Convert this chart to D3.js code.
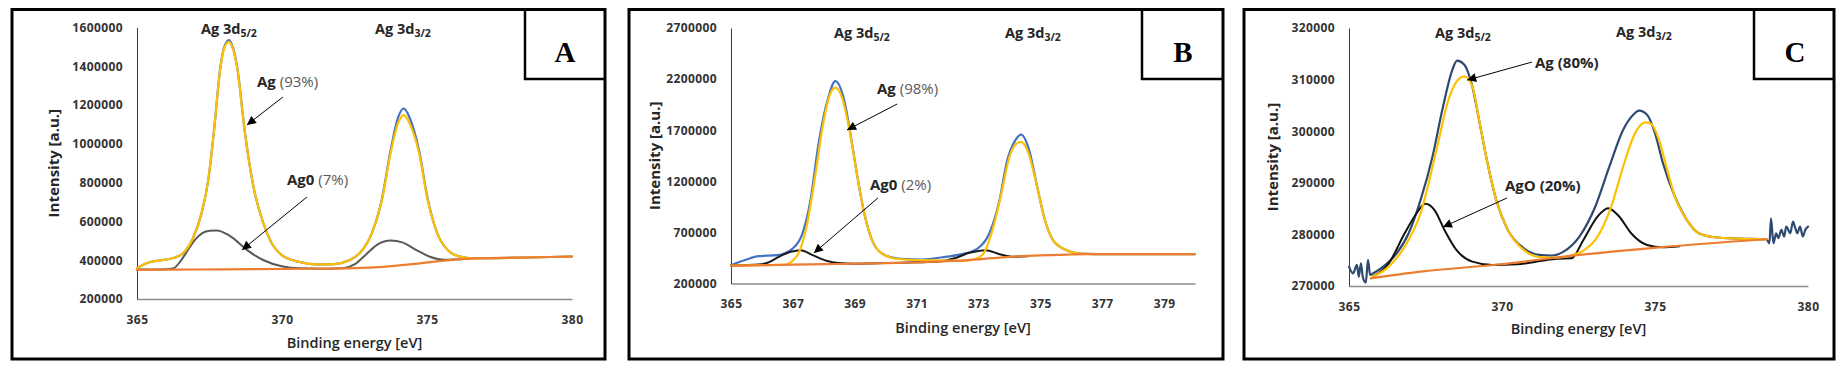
<!DOCTYPE html>
<html>
<head>
<meta charset="utf-8">
<script src="https://cdn.jsdelivr.net/npm/d3@7"></script>
<style>
  body { margin: 0; background: #fff; }
  svg { display: block; }
  text { font-family: "Open Sans", sans-serif; }
</style>
</head>
<body>
<svg width="1842" height="371"></svg>
<script>
// ---- tick values ----
const energyTicksA = [365, 370, 375, 380];
const energyTicksB = [365, 367, 369, 371, 373, 375, 377, 379];
const energyTicksC = [365, 370, 375, 380];
const intensityTicksA = [200000, 400000, 600000, 800000, 1000000, 1200000, 1400000, 1600000];
const intensityTicksB = [200000, 700000, 1200000, 1700000, 2200000, 2700000];
const intensityTicksC = [270000, 280000, 290000, 300000, 310000, 320000];

// ---- panel A series [eV, intensity] ----
const envelopeA = [[365.0,359000],[365.4,388000],[365.8,399000],[366.25,411000],[366.6,437000],[366.93,513000],[367.23,644000],[367.46,815000],[367.65,1060000],[367.88,1400000],[368.0,1495000],[368.17,1535000],[368.32,1490000],[368.45,1400000],[368.72,1060000],[369.0,790000],[369.35,593000],[369.64,489000],[370.03,422000],[370.6,391000],[371.2,378000],[371.8,380000],[372.3,398000],[372.7,440000],[373.1,540000],[373.44,712000],[373.75,970000],[374.0,1135000],[374.2,1182000],[374.4,1135000],[374.72,970000],[375.03,712000],[375.35,540000],[375.7,455000],[376.1,420000],[376.6,410000],[377.5,411000],[378.5,414000],[380.0,419000]];
const agA = [[365.0,359000],[365.4,388000],[365.8,399000],[366.25,411000],[366.6,437000],[366.93,513000],[367.23,644000],[367.46,815000],[367.65,1058000],[367.88,1395000],[368.0,1488000],[368.17,1525000],[368.32,1482000],[368.45,1395000],[368.72,1058000],[369.0,790000],[369.35,593000],[369.64,489000],[370.03,422000],[370.6,391000],[371.2,378000],[371.8,380000],[372.3,398000],[372.7,440000],[373.1,540000],[373.44,705000],[373.75,955000],[374.0,1105000],[374.2,1148000],[374.4,1105000],[374.72,955000],[375.03,705000],[375.35,540000],[375.7,455000],[376.1,420000],[376.6,410000],[377.5,411000],[378.5,414000],[380.0,419000]];
const ag0A = [[365.0,352000],[365.8,352000],[366.24,357000],[366.5,395000],[366.72,444000],[367.0,505000],[367.25,540000],[367.5,552000],[367.76,553000],[368.05,538000],[368.3,515000],[368.79,453000],[369.35,401000],[370.03,367000],[370.6,358000],[371.5,356000],[372.1,358000],[372.5,378000],[372.9,430000],[373.3,482000],[373.75,502000],[374.15,492000],[374.6,455000],[375.1,418000],[375.6,402000],[376.4,407000]];
const backgroundA = [[365.0,350000],[367.0,352000],[369.0,354000],[371.0,356000],[372.5,359000],[373.5,366000],[374.5,380000],[375.5,397000],[376.5,408000],[378.0,413000],[380.0,419000]];

// ---- panel B series ----
const envelopeB = [[365.0,379000],[365.5,435000],[365.9,467000],[366.5,477000],[366.99,542000],[367.31,689000],[367.57,1015000],[367.83,1569000],[368.15,2025000],[368.37,2181000],[368.66,1992000],[368.86,1667000],[369.07,1275000],[369.31,884000],[369.56,624000],[369.88,493000],[370.4,444000],[371.17,435000],[371.94,461000],[372.46,487000],[372.97,542000],[373.35,689000],[373.68,1015000],[373.93,1406000],[374.19,1601000],[374.38,1657000],[374.64,1504000],[374.9,1145000],[375.15,819000],[375.41,624000],[375.8,532000],[376.31,493000],[377.2,487000],[380.0,487000]];
const agB = [[365.0,376000],[366.5,382000],[366.8,388000],[367.0,425000],[367.18,493000],[367.44,754000],[367.7,1210000],[367.96,1732000],[368.19,2041000],[368.37,2116000],[368.6,2010000],[368.86,1650000],[369.07,1270000],[369.31,884000],[369.56,624000],[369.88,493000],[370.4,440000],[371.17,428000],[371.9,425000],[372.5,422000],[372.9,440000],[373.16,493000],[373.42,689000],[373.74,1080000],[374.0,1438000],[374.2,1560000],[374.38,1585000],[374.6,1490000],[374.9,1140000],[375.15,819000],[375.41,624000],[375.8,532000],[376.31,493000],[377.2,487000],[380.0,487000]];
const ag0B = [[365.0,376000],[365.9,386000],[366.2,405000],[366.54,461000],[366.93,510000],[367.25,526000],[367.64,477000],[368.08,422000],[368.47,400000],[369.0,394000],[370.0,400000],[371.0,407000],[371.7,415000],[372.2,444000],[372.71,500000],[373.23,526000],[373.68,487000],[374.13,461000],[374.6,466000]];
const backgroundB = [[365.0,373000],[366.0,379000],[367.0,384000],[368.0,389000],[369.0,394000],[370.0,400000],[371.2,408000],[372.0,418000],[373.0,437000],[374.0,461000],[375.0,476000],[376.0,484000],[376.5,487000],[380.0,487000]];

// ---- panel C series ----
const envelopeC = [[365.0,273750],[365.13,272460],[365.26,274080],[365.32,271800],[365.39,274400],[365.45,271800],[365.55,270650],[365.62,275050],[365.69,272140],[365.75,272330],[366.04,273430],[366.56,276340],[366.95,280220],[367.34,286690],[367.73,295100],[368.05,304160],[368.38,311920],[368.53,313670],[368.77,312900],[369.03,308690],[369.29,300930],[369.55,293160],[369.81,286690],[370.19,280870],[370.71,277310],[371.23,276020],[371.62,275890],[372.01,276660],[372.53,279580],[373.05,285400],[373.51,293160],[373.96,300280],[374.29,303190],[374.48,303970],[374.74,303190],[375.0,299630],[375.26,293810],[375.65,287340],[376.04,282810],[376.43,280220],[376.95,279450],[377.73,279190],[378.64,279060],[378.74,278280],[378.79,283130],[378.87,278280],[378.96,280220],[379.03,279250],[379.13,280870],[379.22,279580],[379.29,281520],[379.42,280220],[379.51,282490],[379.57,281520],[379.65,280220],[379.74,281520],[379.83,279580],[379.91,280870],[380.0,281520]];
const agC = [[365.78,271800],[366.3,273750],[366.82,277630],[367.34,284100],[367.86,296400],[368.25,306100],[368.57,310000],[368.77,310630],[369.03,308690],[369.29,300930],[369.55,293160],[369.81,286690],[370.19,280870],[370.71,277000],[371.23,275600],[371.8,275500],[372.3,276000],[372.7,277000],[373.05,278930],[373.57,285400],[373.96,293160],[374.35,299630],[374.68,301700],[374.87,301440],[375.13,298340],[375.4,292500],[375.65,287340],[376.04,282810],[376.43,280220],[376.95,279450],[377.73,279190],[378.64,279060]];
const agOC = [[365.78,271800],[366.3,274400],[366.82,280220],[367.21,284100],[367.49,285920],[367.79,284750],[368.12,280870],[368.51,276990],[369.03,274720],[369.68,274080],[370.5,274200],[371.3,274900],[371.8,275300],[372.27,275370],[372.66,278930],[373.12,283460],[373.47,285080],[373.83,283460],[374.22,280220],[374.74,277960],[375.26,277500],[375.8,277700]];
const backgroundC = [[365.71,271490],[367.34,272780],[369.94,274210],[372.53,276020],[375.13,277500],[378.64,279060]];

// ---- labels ----
const peakLabels = ["Ag 3d", "5/2", "3/2"];
const componentLabelsA = [["Ag", " (93%)"], ["Ag0", " (7%)"]];
const componentLabelsB = [["Ag", " (98%)"], ["Ag0", " (2%)"]];
const componentLabelsC = [["Ag (80%)", ""], ["AgO (20%)", ""]];
// arrow tail / tip in data units
const arrowsA = [[[370.03,1241000],[368.79,1097000]], [[370.86,725800],[368.62,452600]]];
const arrowsB = [[[370.37,1956000],[368.75,1702000]], [[369.75,1037000],[367.68,498000]]];
const arrowsC = [[[370.98,313400],[368.86,309900]], [[370.16,287050],[368.07,281430]]];

const panels = [
  { letter: "A", frame: [12, 605, 9.5, 359], boxLeft: 525, boxBottom: 79, letterX: 565,
    plot: {left: 137, right: 572, top: 27.4, bottom: 299}, xDom: [365, 380], yDom: [200000, 1600000],
    xTicks: energyTicksA, yTicks: intensityTicksA, tickY: 16, xTitleY: 348, yTitleX: 54,
    env: envelopeA, comp1: agA, comp2: ag0A, bg: backgroundA,
    envColor: "#4472c4", comp2Color: "#595959",
    peaks: [[201, 34, "5/2"], [375, 34, "3/2"]],
    comps: componentLabelsA, compPos: [[257, 87], [287, 185]], arrows: arrowsA },
  { letter: "B", frame: [629, 1223, 9.5, 359], boxLeft: 1142, boxBottom: 79, letterX: 1183,
    plot: {left: 731, right: 1195, top: 28, bottom: 283.5}, xDom: [365, 380], yDom: [200000, 2700000],
    xTicks: energyTicksB, yTicks: intensityTicksB, tickY: 16, xTitleY: 333, yTitleX: 655,
    env: envelopeB, comp1: agB, comp2: ag0B, bg: backgroundB,
    envColor: "#4472c4", comp2Color: "#1a1a1a",
    peaks: [[834, 38, "5/2"], [1005, 38, "3/2"]],
    comps: componentLabelsB, compPos: [[877, 94], [870, 190]], arrows: arrowsB },
  { letter: "C", frame: [1244, 1834, 9.5, 359], boxLeft: 1754, boxBottom: 79, letterX: 1795,
    plot: {left: 1349, right: 1808, top: 28, bottom: 286}, xDom: [365, 380], yDom: [270000, 320000],
    xTicks: energyTicksC, yTicks: intensityTicksC, tickY: 16, xTitleY: 334, yTitleX: 1273,
    env: envelopeC, comp1: agC, comp2: agOC, bg: backgroundC,
    envColor: "#2e4a70", comp2Color: "#111111",
    peaks: [[1435, 38, "5/2"], [1616, 37, "3/2"]],
    comps: componentLabelsC, compPos: [[1535, 68], [1505, 191]], arrows: arrowsC }
];

const svg = d3.select("svg");
const defs = svg.append("defs");
defs.append("marker").attr("id", "head")
  .attr("viewBox", "0 0 10 10").attr("refX", 10).attr("refY", 5)
  .attr("markerWidth", 11).attr("markerHeight", 9).attr("markerUnits", "userSpaceOnUse")
  .attr("orient", "auto")
  .append("path").attr("d", "M0,0 L10,5 L0,10 z").attr("fill", "#000");

panels.forEach(function(p) {
  let g = svg.append("g");
  let x = d3.scaleLinear().domain(p.xDom).range([p.plot.left, p.plot.right]);
  let y = d3.scaleLinear().domain(p.yDom).range([p.plot.bottom, p.plot.top]);

  // frame and letter box
  g.append("rect")
    .attr("x", p.frame[0]).attr("y", p.frame[2])
    .attr("width", p.frame[1] - p.frame[0]).attr("height", p.frame[3] - p.frame[2])
    .attr("fill", "none").attr("stroke", "#000").attr("stroke-width", 3);
  g.append("path")
    .attr("d", "M" + p.boxLeft + "," + p.frame[2] + " V" + p.boxBottom + " H" + p.frame[1])
    .attr("fill", "none").attr("stroke", "#000").attr("stroke-width", 2.5);
  g.append("text")
    .attr("x", p.letterX).attr("y", 62)
    .attr("text-anchor", "middle")
    .style("font-family", "'Liberation Serif', serif")
    .style("font-weight", "bold").style("font-size", "29px")
    .text(p.letter);

  // axes
  let xAxis = d3.axisBottom(x).tickValues(p.xTicks).tickSize(0).tickPadding(p.tickY).tickFormat(d3.format("d"));
  let yAxis = d3.axisLeft(y).tickValues(p.yTicks).tickSize(0).tickPadding(14).tickFormat(d3.format("d"));
  let xg = g.append("g").attr("transform", "translate(0," + p.plot.bottom + ")").call(xAxis);
  let yg = g.append("g").attr("transform", "translate(" + p.plot.left + ",0)").call(yAxis);
  xg.select(".domain").attr("stroke", "#8c8c8c").attr("stroke-width", 1.5);
  yg.select(".domain").attr("stroke", "#3c3c3c").attr("stroke-width", 1);
  g.selectAll(".tick text")
    .style("font-family", "'Open Sans', sans-serif")
    .style("font-size", "12px").style("font-weight", "bold")
    .style("letter-spacing", "0.4px")
    .attr("fill", "#333");

  g.append("text")
    .attr("x", (p.plot.left + p.plot.right) / 2).attr("y", p.xTitleY)
    .attr("text-anchor", "middle")
    .style("font-size", "14.5px").style("font-weight", "600").attr("fill", "#262626")
    .text("Binding energy [eV]");
  g.append("text")
    .attr("transform", "translate(" + p.yTitleX + "," + (p.plot.top + p.plot.bottom) / 2 + ") rotate(-90)")
    .attr("text-anchor", "middle").attr("dy", "0.35em")
    .style("font-size", "15px").style("font-weight", "bold").attr("fill", "#262626")
    .text("Intensity [a.u.]");

  // curves
  let line = d3.line()
    .x(function(d) { return x(d[0]); })
    .y(function(d) { return y(d[1]); })
    .curve(d3.curveMonotoneX);
  let series = [
    [p.env, p.envColor, 2.2],
    [p.comp2, p.comp2Color, 2],
    [p.comp1, "#ffc000", 2.2],
    [p.bg, "#ed7d31", 2.2]
  ];
  series.forEach(function(s) {
    g.append("path").datum(s[0])
      .attr("d", line)
      .attr("fill", "none").attr("stroke", s[1]).attr("stroke-width", s[2])
      .attr("stroke-linejoin", "round").attr("stroke-linecap", "round");
  });

  // peak labels
  p.peaks.forEach(function(pk) {
    let t = g.append("text").attr("x", pk[0]).attr("y", pk[1])
      .style("font-size", "14.5px").style("font-weight", "bold").attr("fill", "#262626");
    t.append("tspan").text(peakLabels[0]);
    t.append("tspan").attr("dy", 3).style("font-size", "10.5px").text(pk[2]);
  });

  // component labels with arrows
  p.comps.forEach(function(c, i) {
    let t = g.append("text").attr("x", p.compPos[i][0]).attr("y", p.compPos[i][1])
      .style("font-size", "15px").attr("fill", "#262626");
    t.append("tspan").style("font-weight", "bold").text(c[0]);
    if (c[1]) t.append("tspan").attr("fill", "#595959").text(c[1]);
  });
  p.arrows.forEach(function(a) {
    g.append("line")
      .attr("x1", x(a[0][0])).attr("y1", y(a[0][1]))
      .attr("x2", x(a[1][0])).attr("y2", y(a[1][1]))
      .attr("stroke", "#000").attr("stroke-width", 1)
      .attr("marker-end", "url(#head)");
  });
});
</script>
</body>
</html>
